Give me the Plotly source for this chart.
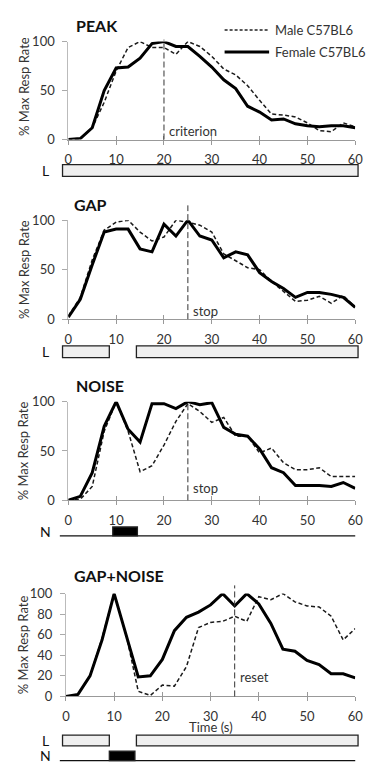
import plotly.graph_objects as go

# ---------------- data ----------------
TIME = [0, 2.5, 5, 7.5, 10, 12.5, 15, 17.5, 20, 22.5, 25, 27.5, 30,
        32.5, 35, 37.5, 40, 42.5, 45, 47.5, 50, 52.5, 55, 57.5, 60]
X_TICKS = [0, 10, 20, 30, 40, 50, 60]
Y_TICKS_A = [0, 50, 100]
Y_TICKS_B = [0, 20, 40, 60, 80, 100]

PANEL_TITLES = ["PEAK", "GAP", "NOISE", "GAP+NOISE"]
SERIES_NAMES = ["Male C57BL6", "Female C57BL6"]
MARK_TIMES = [20, 25, 25, 35]
MARK_LABELS = ["criterion", "stop", "stop", "reset"]

PEAK_MALE = [0, 1, 12, 38, 70, 94, 100, 94, 94, 87, 100, 95, 85, 72, 66, 55, 40, 26, 25, 23, 17, 9, 8, 17, 13]
PEAK_FEMALE = [0, 1, 12, 50, 73, 74, 83, 98, 100, 95, 95, 85, 74, 61, 52, 34, 28, 20, 21, 16, 14, 13, 14, 14, 12]
GAP_MALE = [3, 22, 60, 90, 98, 100, 88, 79, 83, 100, 98, 95, 88, 66, 59, 52, 50, 38, 28, 18, 19, 23, 16, 24, 12]
GAP_FEMALE = [2, 20, 55, 88, 91, 91, 71, 68, 96, 84, 100, 84, 80, 62, 68, 65, 47, 38, 31, 22, 27, 27, 25, 22, 12]
NOISE_MALE = [0, 1, 14, 70, 100, 70, 29, 35, 56, 80, 98, 90, 79, 84, 65, 65, 48, 53, 38, 31, 31, 33, 24, 24, 24]
NOISE_FEMALE = [0, 4, 28, 75, 100, 72, 59, 98, 98, 93, 100, 97, 99, 74, 67, 65, 52, 33, 28, 15, 15, 15, 14, 18, 12]
GN_MALE = [0, 2, 20, 57, 100, 60, 5, 1, 11, 10, 29, 67, 72, 73, 78, 73, 97, 94, 100, 92, 88, 87, 78, 55, 66]
GN_FEMALE = [0, 2, 20, 55, 100, 60, 19, 20, 36, 64, 77, 82, 89, 100, 88, 100, 90, 71, 46, 44, 35, 31, 22, 22, 18]

# stimulus timelines (seconds): light (L) on-segments and noise (N) on-segments
L_PEAK = [(0, 60)]
L_GAP = [(0, 9.5), (15, 60)]
N_NOISE = [(10.2, 15.2)]
L_GAPNOISE = [(0, 9.5), (15, 60)]
N_GAPNOISE = [(9.5, 14.7)]

MALE = [PEAK_MALE, GAP_MALE, NOISE_MALE, GN_MALE]
FEMALE = [PEAK_FEMALE, GAP_FEMALE, NOISE_FEMALE, GN_FEMALE]

# ---------------- layout geometry (pixels) ----------------
W, H = 370, 772
FONT = "Lato"
PANEL_PX = [  # x_left, x_right, y_top(100), y_bottom(0)
    (66.5, 363, 34.3, 134.3),
    (66.5, 363, 216.7, 317.7),
    (66.5, 363, 402, 502.7),
    (64, 363, 598, 703),
]
TITLE_PX = [(72.7, 18), (70, 201), (72, 385), (70, 580)]
MARK_TOP = [1.02, 1.15, 1.0, 1.08]
MARK_LABEL_Y = [9, 8.6, 12, 19]


def py(p):
    return 1 - p / H


def px(p):
    return p / W


fig = go.Figure()
shapes = []
annotations = []
layout = dict(
    width=W, height=H, autosize=False,
    margin=dict(l=0, r=0, t=0, b=0),
    paper_bgcolor="white", plot_bgcolor="rgba(0,0,0,0)",
    showlegend=False,
    font=dict(family=FONT, size=13, color="#333"),
)

for i in range(4):
    n = i + 1
    xa, ya = ("x" if n == 1 else f"x{n}"), ("y" if n == 1 else f"y{n}")
    xl, xr, yt, yb = PANEL_PX[i]
    fig.add_trace(go.Scatter(
        x=TIME, y=MALE[i], mode="lines", name=SERIES_NAMES[0], xaxis=xa, yaxis=ya,
        line=dict(color="#1a1a1a", width=1.5, dash="4px,2.5px"), cliponaxis=False))
    fig.add_trace(go.Scatter(
        x=TIME, y=FEMALE[i], mode="lines", name=SERIES_NAMES[1], xaxis=xa, yaxis=ya,
        line=dict(color="#000", width=3), cliponaxis=False))
    layout[f"xaxis{n}"] = dict(
        domain=[px(xl), px(xr)], anchor=ya, range=[0, 60], tickvals=X_TICKS,
        ticks="outside", ticklen=4, tickcolor="#999", showline=True, linecolor="#999",
        linewidth=1, showgrid=False, zeroline=False, ticklabelstandoff=4,
        ticklabeloverflow="allow",
        tickfont=dict(family=FONT, size=13, color="#333"))
    layout[f"yaxis{n}"] = dict(
        domain=[py(yb), py(yt)], anchor=xa, range=[0, 100],
        tickvals=Y_TICKS_B if i == 3 else Y_TICKS_A,
        ticks="outside", ticklen=5, tickcolor="#aaa", showline=True, linecolor="#bbb",
        linewidth=1, showgrid=False, zeroline=False, ticklabelstandoff=5,
        tickfont=dict(family=FONT, size=13, color="#333"))
    # overlay axis to make crossing tick marks
    m = n + 5
    fig.add_trace(go.Scatter(x=[], y=[], xaxis=f"x{m}", yaxis=ya, showlegend=False))
    layout[f"xaxis{m}"] = dict(
        overlaying=xa, anchor=ya, range=[0, 60], tickvals=X_TICKS, ticks="inside",
        ticklen=4, tickcolor="#999", showticklabels=False, showline=False,
        showgrid=False, zeroline=False)
    # criterion/stop/reset marker
    shapes.append(dict(type="line", xref=xa, yref=f"{ya} domain",
                       x0=MARK_TIMES[i], x1=MARK_TIMES[i], y0=0, y1=MARK_TOP[i],
                       line=dict(color="#333", width=1, dash="6px,3px")))
    annotations.append(dict(text=MARK_LABELS[i], xref=xa, yref=ya, x=MARK_TIMES[i],
                            y=MARK_LABEL_Y[i], xanchor="left", yanchor="middle",
                            xshift=3, showarrow=False,
                            font=dict(family=FONT, size=13, color="#333")))
    # panel title
    tx, ty = TITLE_PX[i]
    annotations.append(dict(text=f"<b>{PANEL_TITLES[i]}</b>", xref="paper", yref="paper",
                            x=px(tx), y=py(ty), xanchor="left", yanchor="middle",
                            showarrow=False, font=dict(family=FONT, size=16, color="#111")))
    # y-axis title
    annotations.append(dict(text="% Max Resp Rate", xref="paper", yref=f"{ya} domain",
                            x=px(20), y=0.54 if i == 0 else 0.5, xanchor="center",
                            yanchor="middle", textangle=-90, showarrow=False,
                            font=dict(family=FONT, size=13, color="#333")))

annotations.append(dict(text="Time (s)", xref="x4", yref="paper", x=30, y=py(734),
                        xanchor="center", yanchor="middle", showarrow=False,
                        font=dict(family=FONT, size=13, color="#333")))

# stimulus timeline axis
fig.add_trace(go.Scatter(x=[], y=[], xaxis="x5", yaxis="y", showlegend=False))
layout["xaxis5"] = dict(domain=[px(58), px(368)], anchor="y", range=[-0.49, 60.41],
                        visible=False)

STIM_ROWS = [  # label, segments, kind, y_top px, y_bottom px
    ("L", L_PEAK, "L", 160, 172),
    ("L", L_GAP, "L", 345, 357),
    ("N", N_NOISE, "N", 530, 539),
    ("L", L_GAPNOISE, "L", 742.5, 753.5),
    ("N", N_GAPNOISE, "N", 759, 768.5),
]
for label, segs, kind, yt, yb in STIM_ROWS:
    if kind == "N":
        shapes.append(dict(type="line", xref="paper", yref="paper", x0=px(57.7), x1=px(363),
                           y0=py(yb), y1=py(yb), line=dict(color="#111", width=1.2)))
    for a, b in segs:
        shapes.append(dict(type="rect", xref="x5", yref="paper", x0=a, x1=b,
                           y0=py(yb), y1=py(yt),
                           fillcolor="#efefef" if kind == "L" else "#000",
                           line=dict(color="#222", width=1.3)))
    annotations.append(dict(text=label, xref="paper", yref="paper", x=px(43),
                            y=py((yt + yb) / 2), xanchor="center", yanchor="middle",
                            showarrow=False, font=dict(family=FONT, size=14, color="#111")))

# custom legend
LEG = [(SERIES_NAMES[0], 22.5, dict(color="#222", width=1.4, dash="3px,2px")),
       (SERIES_NAMES[1], 45, dict(color="#000", width=3))]
for name, yy, ln in LEG:
    shapes.append(dict(type="line", xref="paper", yref="paper", x0=px(228), x1=px(274),
                       y0=py(yy), y1=py(yy), line=ln))
    annotations.append(dict(text=name, xref="paper", yref="paper", x=px(278), y=py(yy),
                            xanchor="left", yanchor="middle", showarrow=False,
                            font=dict(family=FONT, size=13, color="#333")))

layout["shapes"] = shapes
layout["annotations"] = annotations
fig.update_layout(**layout)
fig.write_html(
    "out.html",
    config={"displayModeBar": False},
    post_script="document.body.style.margin='0';document.body.style.overflow='hidden';",
)
